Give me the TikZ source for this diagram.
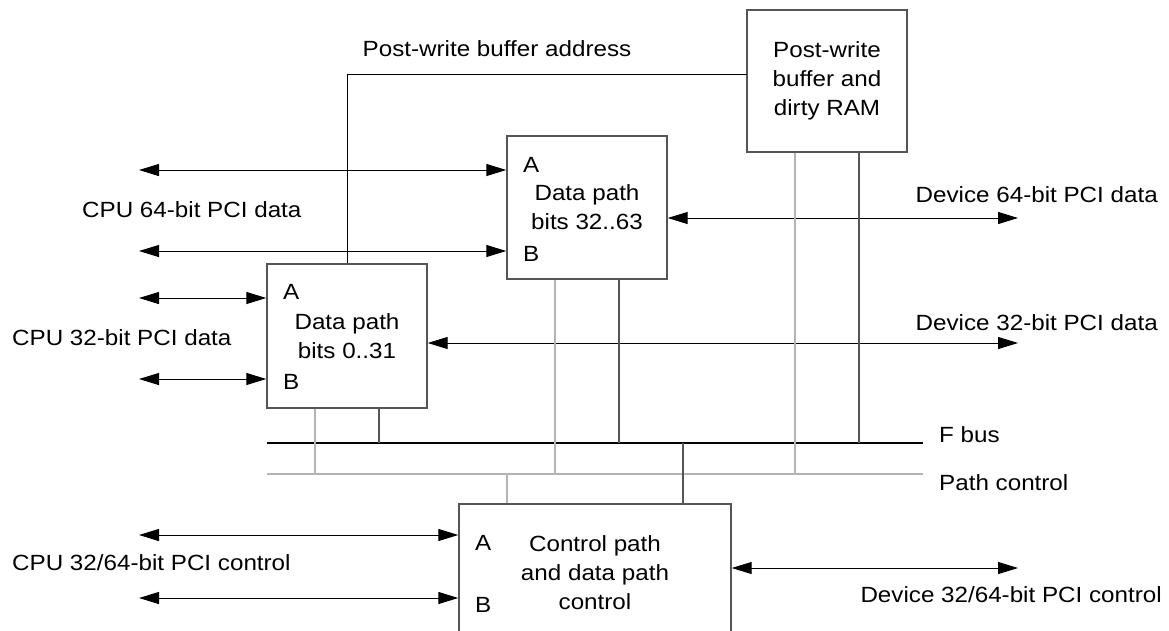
\documentclass[tikz,border=0pt]{standalone}
\usepackage{fontspec}
\setmainfont{Liberation Sans}[FakeStretch=1.1]
\usetikzlibrary{arrows.meta}
\definecolor{boxgray}{HTML}{555555}
\definecolor{darkln}{HTML}{555555}
\definecolor{lightln}{HTML}{B4B4B4}
\begin{document}
\begin{tikzpicture}[x=1pt,y=-1pt,
  every node/.style={font=\fontsize{22}{29}\selectfont, inner sep=0pt},
  box/.style={draw=boxgray, line width=1.4pt, minimum width=160pt, align=center},
  port/.style={anchor=west},
  lefttxt/.style={anchor=west},
  righttxt/.style={anchor=east},
  biarr/.style={line width=1pt, {Triangle[length=20pt,width=12pt]}-{Triangle[length=20pt,width=12pt]}},
  fbus/.style={line width=1.3pt, draw=black},
  dark/.style={line width=1.3pt, draw=darkln},
  light/.style={line width=1.3pt, draw=lightln},
]
\clip (0,0) rectangle (1169,630);
\useasboundingbox (0,0) rectangle (1169,630);

% boxes
\node[box, minimum height=142pt] (pw) at (827,81) {Post-write\\buffer and\\dirty RAM};
\node[box, minimum height=143pt] (dp32) at (587,207.5) {Data path\\bits 32..63};
\node[box, minimum height=144pt] (dp0) at (347,336) {Data path\\bits 0..31};
\node[box, minimum width=272pt, minimum height=138pt] (ctl) at (595,573) {Control path\\and data path\\control};

% ports
\node[port] (dp32a) at (523,165) {A};
\node[port] (dp32b) at (523,254) {B};
\node[port] (dp0a) at (283,292) {A};
\node[port] (dp0b) at (283,382) {B};
\node[port] (ctla) at (475,543) {A};
\node[port] (ctlb) at (475,605) {B};

% post-write buffer address line
\coordinate (pwa) at (747,74);
\draw[line width=1pt] (pwa) -| (dp0.north);
\node (pwlbl) at (497,49) {Post-write buffer address};

% left arrows
\coordinate (l1) at (139,170);
\coordinate (l2) at (139,251);
\coordinate (l3) at (139,298);
\coordinate (l4) at (139,379);
\coordinate (l5) at (139,535);
\coordinate (l6) at (139,598);
\draw[biarr] (l1) -- (l1 -| dp32.west);
\draw[biarr] (l2) -- (l2 -| dp32.west);
\draw[biarr] (l3) -- (l3 -| dp0.west);
\draw[biarr] (l4) -- (l4 -| dp0.west);
\draw[biarr] (l5) -- (l5 -| ctl.west);
\draw[biarr] (l6) -- (l6 -| ctl.west);

% right arrows
\coordinate (r1) at (1018,218);
\coordinate (r2) at (1018,343);
\coordinate (r3) at (1018,568);
\draw[biarr] (r1 -| dp32.east) -- (r1);
\draw[biarr] (r2 -| dp0.east) -- (r2);
\draw[biarr] (r3 -| ctl.east) -- (r3);

% buses
\coordinate (fbL) at (267,443);
\coordinate (fbR) at (923,443);
\coordinate (pcL) at (267,474);
\coordinate (pcR) at (923,474);
\draw[fbus] (fbL) -- (fbR);
\draw[light] (pcL) -- (pcR);

% taps
\coordinate (t1) at (315,0);
\coordinate (t2) at (379,0);
\coordinate (t3) at (555,0);
\coordinate (t4) at (619,0);
\coordinate (t5) at (795,0);
\coordinate (t6) at (859,0);
\coordinate (t7) at (507,0);
\coordinate (t8) at (683,0);
\draw[light] (t1 |- dp0.south) -- (t1 |- pcL);
\draw[dark] (t2 |- dp0.south) -- (t2 |- fbL);
\draw[light] (t3 |- dp32.south) -- (t3 |- pcL);
\draw[dark] (t4 |- dp32.south) -- (t4 |- fbL);
\draw[light] (t5 |- pw.south) -- (t5 |- pcL);
\draw[dark] (t6 |- pw.south) -- (t6 |- fbL);
\draw[light] (t7 |- pcL) -- (t7 |- ctl.north);
\draw[dark] (t8 |- fbL) -- (t8 |- ctl.north);

% labels
\node[lefttxt] (cpu64) at (82,210) {CPU 64-bit PCI data};
\node[lefttxt] (cpu32) at (12,338) {CPU 32-bit PCI data};
\node[lefttxt] (cpuctl) at (12,563) {CPU 32/64-bit PCI control};
\node[righttxt] (dev64) at (1158,195) {Device 64-bit PCI data};
\node[righttxt] (dev32) at (1158,323) {Device 32-bit PCI data};
\node[righttxt] (devctl) at (1162,595) {Device 32/64-bit PCI control};
\node[lefttxt] (fbl) at (939,435) {F bus};
\node[lefttxt] (pcl) at (939,483) {Path control};
\end{tikzpicture}
\end{document}
